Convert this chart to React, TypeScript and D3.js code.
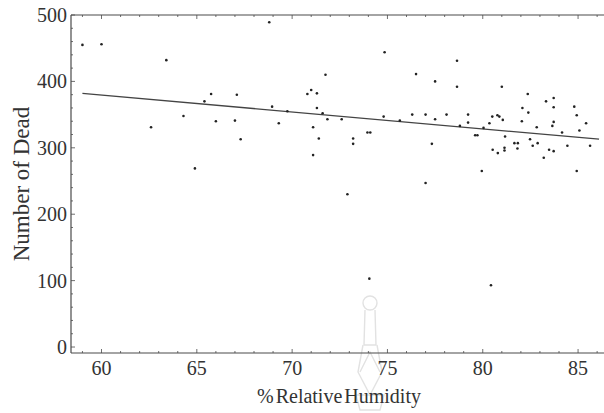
import React from "react";
import * as d3 from "d3";

const humidity = [
  59.0, 60.0, 62.6, 63.4, 64.3, 64.9, 65.4, 65.75, 66.0, 67.0, 67.1, 67.3, 68.8, 68.95, 69.3, 69.75,
  70.8, 71.0, 71.3, 71.3, 71.1, 71.1, 71.4, 71.75, 71.6, 71.85, 72.6, 72.9, 73.2, 73.2, 73.95, 74.1,
  74.05, 74.8, 74.85, 75.65, 76.3, 76.5, 77.0, 77.0, 77.33, 77.5, 77.5, 78.1, 78.65, 78.65, 78.8,
  79.23, 79.23, 79.6, 79.72, 79.95, 80.04, 80.35, 80.5, 80.52, 80.43, 80.77, 80.87, 80.79, 81.0,
  81.05, 81.14, 81.14, 81.17, 81.66, 81.84, 81.82, 82.05, 82.08, 82.36, 82.39, 82.48, 82.62, 82.83,
  82.88, 83.2, 83.32, 83.48, 83.72, 83.65, 83.72, 83.72, 83.72, 84.16, 84.44, 84.8, 84.93, 84.93,
  85.07, 85.42, 85.63,
];
const dead = [
  455, 456, 331, 432, 348, 269, 370, 381, 340, 341, 380, 313, 489, 362, 337, 355,
  381, 387, 382, 360, 331, 289, 314, 410, 352, 343, 343, 230, 314, 306, 323, 323,
  103, 347, 444, 341, 350, 411, 350, 247, 306, 400, 343, 350, 431, 392, 333,
  350, 338, 319, 319, 265, 330, 337, 347, 297, 93, 349, 347, 292, 392,
  342, 300, 296, 317, 307, 307, 299, 340, 360, 381, 353, 313, 303, 331,
  307, 285, 370, 297, 295, 333, 339, 375, 361, 323, 303, 362, 349, 265,
  326, 337, 303,
];
const fitX = [59.0, 86.1];
const fitY = [382, 313];
const xTicks = [60, 65, 70, 75, 80, 85];
const yTicks = [0, 100, 200, 300, 400, 500];
const xMinor = d3.range(59, 87, 1);
const yMinor = d3.range(0, 501, 20);

const W = 604;
const H = 413;
const left = 71;
const right = 604;
const top = 15;
const bottom = 353;

export default function App() {
  const x = d3.scaleLinear().domain([58.4, 86.36]).range([left, right]);
  const y = d3.scaleLinear().domain([-9, 500]).range([bottom, top]);
  const line = d3.line<number>().x((d) => x(fitX[d])).y((d) => y(fitY[d]));
  const font = "'Liberation Serif', 'Times New Roman', serif";
  const frame = "#4a4a4a";
  return (
    <svg width={W} height={H} style={{ position: "absolute", left: 0, top: 0, background: "#fff" }}>
      <rect width={W} height={H} fill="#fff" />
      {/* faint watermark */}
      <g stroke="#e2e2e2" fill="none" strokeWidth={1.4}>
        <circle cx={370} cy={303} r={7} />
        <path d="M365,310 L364,345 L376,345 L375,310" />
        <path d="M363,345 L358,372 L370,395 L382,372 L377,345" />
        <path d="M360,372 L370,352 L380,372" />
        <path d="M356,395 L384,395 L380,410 L360,410 Z" />
      </g>
      {/* frame */}
      <g stroke={frame} strokeWidth={1.2}>
        <line x1={left} x2={right} y1={top} y2={top} />
        <line x1={left} x2={right} y1={bottom} y2={bottom} />
        <line x1={left} x2={left} y1={top} y2={bottom} />
      </g>
      {/* minor ticks */}
      <g stroke={frame} strokeWidth={0.8}>
        {xMinor.map((v) => (
          <g key={"xm" + v}>
            <line x1={x(v)} x2={x(v)} y1={bottom} y2={bottom - (v % 5 === 0 ? 4 : 2)} />
            <line x1={x(v)} x2={x(v)} y1={top} y2={top + (v % 5 === 0 ? 4 : 2)} />
          </g>
        ))}
        {yMinor.map((v) => (
          <line key={"ym" + v} x1={left} x2={left + (v % 100 === 0 ? 4 : 2)} y1={y(v)} y2={y(v)} />
        ))}
      </g>
      {/* tick labels */}
      <g fontFamily={font} fontSize={20} fill="#333">
        {xTicks.map((v) => (
          <text key={"xt" + v} x={x(v)} y={375} textAnchor="middle">
            {v}
          </text>
        ))}
        {yTicks.map((v) => (
          <text key={"yt" + v} x={67} y={y(v) + 7} textAnchor="end">
            {v}
          </text>
        ))}
        <text x={339} y={403} textAnchor="middle" wordSpacing={-3}>
          % Relative Humidity
        </text>
        <text transform={`translate(29,184) rotate(-90)`} textAnchor="middle" fontSize={23}>
          Number of Dead
        </text>
      </g>
      {/* regression line */}
      <path d={line([0, 1]) || ""} fill="none" stroke="#444" strokeWidth={1.3} />
      {/* points */}
      <g fill="#222">
        {humidity.map((h, i) => (
          <circle key={i} cx={x(h)} cy={y(dead[i])} r={1.3} />
        ))}
      </g>
    </svg>
  );
}
